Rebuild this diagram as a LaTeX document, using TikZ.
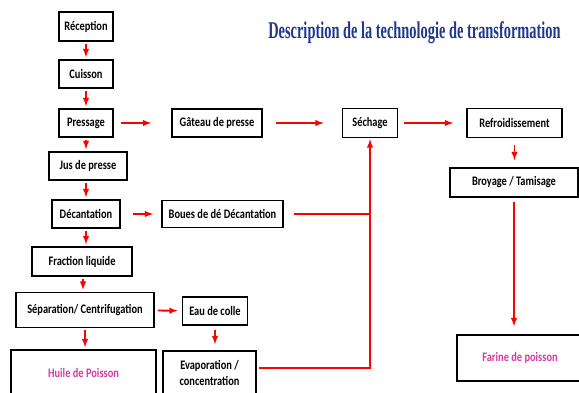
\documentclass[tikz,border=0pt]{standalone}
\usepackage{fontspec}
\setmainfont{Carlito}
\newfontfamily\boitefont[FakeStretch=0.8]{Carlito}
\newfontfamily\titrefont[FakeStretch=0.6]{Liberation Serif}
\usetikzlibrary{arrows,calc}
\definecolor{rouge}{RGB}{255,0,0}
\definecolor{rose}{RGB}{214,57,164}
\definecolor{bleutitre}{RGB}{31,56,140}

\begin{document}
\begin{tikzpicture}[x=1pt,y=-1pt,
	etape/.style={draw=black, line width=1.7pt, inner sep=0pt, align=center, font=\boitefont\bfseries\fontsize{13}{16}\selectfont},
	fleche/.style={draw=rouge, line width=1.8pt, -latex, shorten <=2pt, shorten >=2pt},
	trait/.style={draw=rouge, line width=1.8pt}]
	\useasboundingbox (0,0) rectangle (579,392);
	% Title
	\node[font=\titrefont\bfseries\fontsize{24}{26}\selectfont, text=bleutitre] (titre) at (414.5,33) {Description de la technologie de transformation};
	% Left column
	\node[etape, minimum width=54, minimum height=29] (reception) at (86,26.5) {Réception};
	\node[etape, minimum width=54, minimum height=28] (cuisson) at (86,74) {Cuisson};
	\node[etape, minimum width=54, minimum height=28] (pressage) at (86,123) {Pressage};
	\node[etape, minimum width=78, minimum height=28] (jus) at (88,166) {Jus de presse};
	\node[etape, minimum width=68, minimum height=28] (decantation) at (86,214) {Décantation};
	\node[etape, minimum width=100, minimum height=29] (fraction) at (82,261.5) {Fraction liquide};
	\node[etape, minimum width=138, minimum height=35] (separation) at (85,310) {Séparation/ Centrifugation};
	\node[etape, minimum width=145, minimum height=46, text=rose] (huile) at (83.5,373) {Huile de Poisson};
	% Middle column
	\node[etape, minimum width=90, minimum height=28] (gateau) at (217,123) {Gâteau de presse};
	\node[etape, minimum width=121, minimum height=27] (boues) at (222.5,214) {Boues de dé Décantation};
	\node[etape, minimum width=65, minimum height=28] (eau) at (215,311) {Eau de colle};
	\node[etape, minimum width=93, minimum height=44] (evap) at (209.5,373) {Evaporation /\\concentration};
	% Right part
	\node[etape, minimum width=55, minimum height=29] (sechage) at (370,123) {Séchage};
	\node[etape, minimum width=95, minimum height=29] (refroid) at (514.5,123) {Refroidissement};
	\node[etape, minimum width=128, minimum height=29] (broyage) at (514,182.5) {Broyage / Tamisage};
	\node[etape, minimum width=126, minimum height=46, text=rose] (farine) at (520,358) {Farine de poisson};
	% Vertical arrows
	\draw[fleche] (reception.south) -- (cuisson.north);
	\draw[fleche] (cuisson.south) -- (pressage.north);
	\draw[fleche] (pressage.south) -- (pressage.south |- jus.north);
	\draw[fleche] (decantation.north |- jus.south) -- (decantation.north);
	\draw[fleche] (decantation.south) -- (decantation.south |- fraction.north);
	\draw[fleche] ([xshift=1pt]fraction.south) -- ([xshift=1pt]fraction.south |- separation.north);
	\draw[fleche] (separation.south) -- (separation.south |- huile.north);
	\draw[fleche, shorten <=4pt, shorten >=6pt] (eau.south) -- (eau.south |- evap.north);
	\draw[fleche, shorten <=7pt, shorten >=7pt] (refroid.south) -- (refroid.south |- broyage.north);
	\draw[fleche, shorten <=4pt, shorten >=8pt] (broyage.south) -- (broyage.south |- farine.north);
	% Horizontal arrows
	\draw[fleche, shorten <=7pt, shorten >=20pt] (pressage) -- (gateau);
	\draw[fleche, shorten <=13pt, shorten >=18pt] (gateau) -- (sechage);
	\draw[fleche, shorten <=6pt, shorten >=13pt] (sechage) -- (refroid);
	\draw[fleche, shorten <=12pt, shorten >=8pt] (decantation) -- (boues);
	\draw[fleche, shorten <=3pt, shorten >=4pt] (separation) -- (eau);
	% Returns to drying
	\draw[trait, shorten <=10pt] (boues.east) -- (boues.east -| sechage.south);
	\draw[fleche, shorten <=2pt, shorten >=1pt] ([yshift=5pt]evap.east) -| (sechage.south);
\end{tikzpicture}
\end{document}
